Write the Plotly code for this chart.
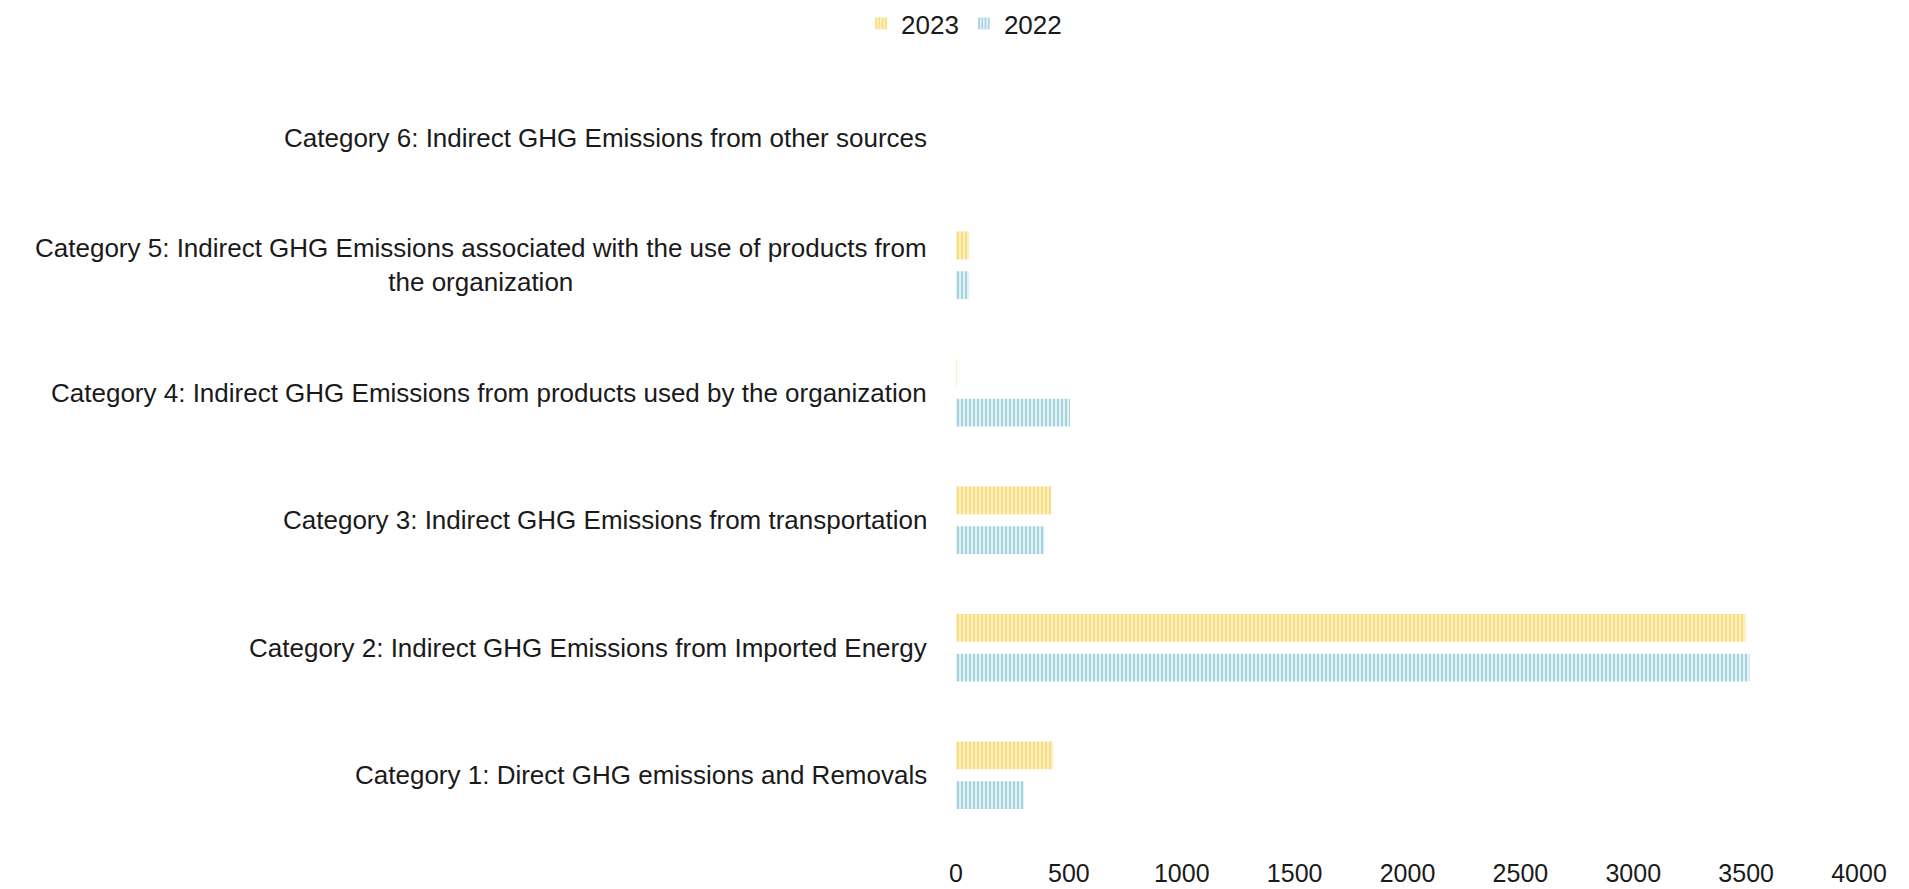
import plotly.graph_objects as go

categories = [
    "Category 1: Direct GHG emissions and Removals",
    "Category 2: Indirect GHG Emissions from Imported Energy",
    "Category 3: Indirect GHG Emissions from transportation",
    "Category 4: Indirect GHG Emissions from products used by the organization",
    "Category 5: Indirect GHG Emissions associated with the use of products from<br>the organization",
    "Category 6: Indirect GHG Emissions from other sources",
]
values_2023 = [430, 3497, 421, 3, 58, 0]
values_2022 = [301, 3515, 393, 505, 58, 0]
x_ticks = [0, 500, 1000, 1500, 2000, 2500, 3000, 3500, 4000]

FONT = "Liberation Sans, Arial, sans-serif"
FS = 26

fig = go.Figure()
fig.add_trace(go.Bar(
    y=categories, x=values_2022, name="2022", orientation="h",
    marker=dict(color="#DDEFF2", line=dict(width=0),
                pattern=dict(shape="|", fgcolor="#A6D3DB", bgcolor="#E3F2F5",
                             size=4, solidity=0.5, fillmode="replace")),
))
fig.add_trace(go.Bar(
    y=categories, x=values_2023, name="2023", orientation="h",
    marker=dict(color="#FDF0C0", line=dict(width=0),
                pattern=dict(shape="|", fgcolor="#F9DC7E", bgcolor="#FDF0C4",
                             size=4, solidity=0.5, fillmode="replace")),
))

for c in categories:
    fig.add_annotation(
        x=0, xref="x", xshift=-27, xanchor="right", y=c, yref="y",
        text=c, showarrow=False, align="center",
        font=dict(family=FONT, size=FS, color="#1a1a1a"),
    )

fig.update_layout(
    width=1909, height=889,
    paper_bgcolor="white", plot_bgcolor="white",
    margin=dict(l=956, r=50, t=74, b=50, autoexpand=False),
    barmode="group", bargap=0.375, bargroupgap=0.3,
    font=dict(family=FONT, size=FS, color="#1a1a1a"),
    legend=dict(orientation="h", xref="container", yref="container",
                x=0.505, xanchor="center", y=1.0, yanchor="top",
                traceorder="reversed", font=dict(size=FS),
                itemwidth=30),
    xaxis=dict(range=[0, 4000], tickvals=x_ticks, showgrid=False,
               zeroline=False, showline=False, ticks="",
               ticklabelstandoff=17, automargin=False,
               tickfont=dict(size=25)),
    yaxis=dict(showticklabels=False, showgrid=False, zeroline=False,
               showline=False, ticks="", automargin=False,
               categoryorder="array", categoryarray=categories),
)

fig.write_html("out.html", config={"displayModeBar": False},
               post_script="document.body.style.margin='0px';document.body.style.overflow='hidden';")
